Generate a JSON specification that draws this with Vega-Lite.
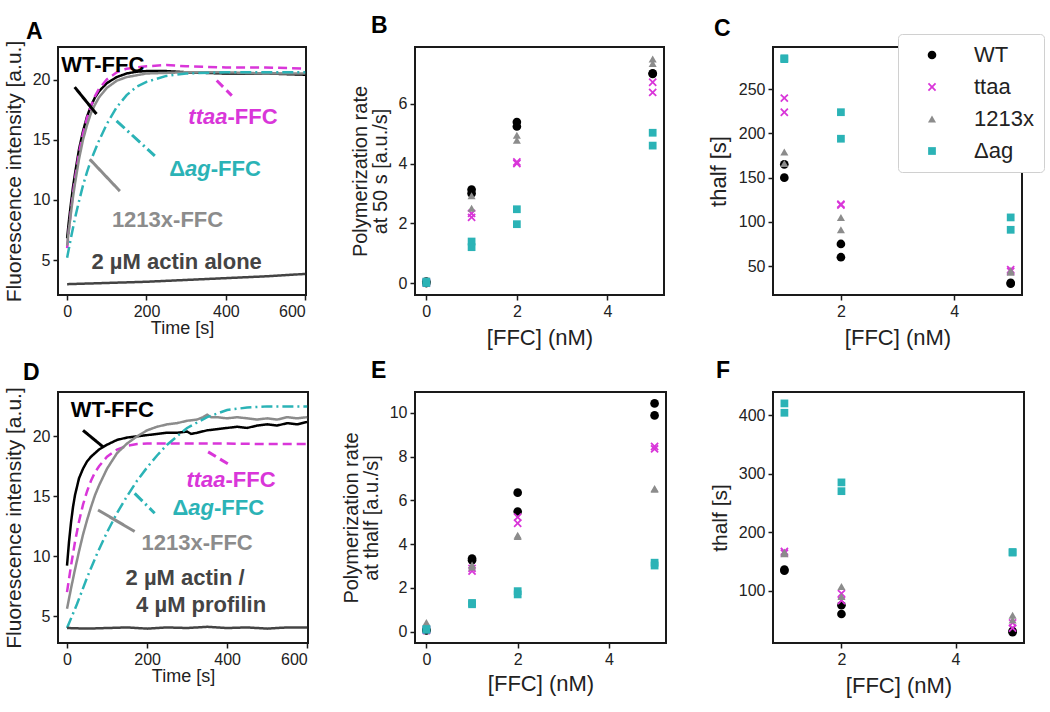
{
  "$schema": "https://vega.github.io/schema/vega-lite/v6.json",
  "background": "white",
  "padding": {"left": 2, "top": 14, "right": 4, "bottom": 4},
  "config": {
    "font": "Liberation Sans",
    "view": {"stroke": "#1a1a1a", "strokeWidth": 2},
    "axis": {"domain": false, "grid": false, "tickColor": "#1a1a1a", "tickSize": 5, "tickWidth": 1.5, "labelFontSize": 16, "labelColor": "#222", "titleFontSize": 20, "titleFontWeight": "normal", "titleColor": "#222", "labelPadding": 3, "labelFont": "Liberation Sans", "titleFont": "Liberation Sans"},
    "axisX": {"titleFontSize": 22, "titlePadding": 8},
    "axisY": {"titlePadding": 8, "titleLineHeight": 20},
    "title": {"anchor": "start", "frame": "group", "fontSize": 23, "fontWeight": "bold", "font": "Liberation Sans", "color": "#000", "baseline": "alphabetic", "offset": 9},
    "text": {"font": "Liberation Sans", "fontWeight": "bold", "fontSize": 22, "baseline": "middle"},
    "legend": {"labelFont": "Liberation Sans"}
  },
  "datasets": {
    "tsA": [
      {"series": "WT", "t": 0, "y": 6.8}, {"series": "WT", "t": 5, "y": 8.4}, {"series": "WT", "t": 10, "y": 9.8}, {"series": "WT", "t": 15, "y": 11.1}, {"series": "WT", "t": 20, "y": 12.2}, {"series": "WT", "t": 30, "y": 14.2}, {"series": "WT", "t": 40, "y": 15.7}, {"series": "WT", "t": 50, "y": 16.9}, {"series": "WT", "t": 60, "y": 17.8}, {"series": "WT", "t": 70, "y": 18.5}, {"series": "WT", "t": 80, "y": 19.0}, {"series": "WT", "t": 100, "y": 19.7}, {"series": "WT", "t": 125, "y": 20.2}, {"series": "WT", "t": 150, "y": 20.5}, {"series": "WT", "t": 175, "y": 20.65}, {"series": "WT", "t": 200, "y": 20.7}, {"series": "WT", "t": 250, "y": 20.7}, {"series": "WT", "t": 300, "y": 20.6}, {"series": "WT", "t": 400, "y": 20.5}, {"series": "WT", "t": 500, "y": 20.5}, {"series": "WT", "t": 600, "y": 20.4},
      {"series": "ttaa", "t": 0, "y": 6.0}, {"series": "ttaa", "t": 5, "y": 7.7}, {"series": "ttaa", "t": 10, "y": 9.2}, {"series": "ttaa", "t": 15, "y": 10.6}, {"series": "ttaa", "t": 20, "y": 11.8}, {"series": "ttaa", "t": 30, "y": 13.9}, {"series": "ttaa", "t": 40, "y": 15.5}, {"series": "ttaa", "t": 50, "y": 16.8}, {"series": "ttaa", "t": 60, "y": 17.8}, {"series": "ttaa", "t": 70, "y": 18.6}, {"series": "ttaa", "t": 80, "y": 19.2}, {"series": "ttaa", "t": 100, "y": 20.0}, {"series": "ttaa", "t": 125, "y": 20.6}, {"series": "ttaa", "t": 150, "y": 20.9}, {"series": "ttaa", "t": 200, "y": 21.1}, {"series": "ttaa", "t": 250, "y": 21.2}, {"series": "ttaa", "t": 300, "y": 21.1}, {"series": "ttaa", "t": 400, "y": 21.0}, {"series": "ttaa", "t": 500, "y": 21.0}, {"series": "ttaa", "t": 600, "y": 20.9},
      {"series": "1213x", "t": 0, "y": 6.2}, {"series": "1213x", "t": 5, "y": 7.7}, {"series": "1213x", "t": 10, "y": 9.0}, {"series": "1213x", "t": 15, "y": 10.3}, {"series": "1213x", "t": 20, "y": 11.4}, {"series": "1213x", "t": 30, "y": 13.4}, {"series": "1213x", "t": 40, "y": 15.0}, {"series": "1213x", "t": 50, "y": 16.2}, {"series": "1213x", "t": 60, "y": 17.2}, {"series": "1213x", "t": 70, "y": 17.9}, {"series": "1213x", "t": 80, "y": 18.5}, {"series": "1213x", "t": 100, "y": 19.3}, {"series": "1213x", "t": 125, "y": 19.9}, {"series": "1213x", "t": 150, "y": 20.2}, {"series": "1213x", "t": 200, "y": 20.5}, {"series": "1213x", "t": 300, "y": 20.6}, {"series": "1213x", "t": 400, "y": 20.6}, {"series": "1213x", "t": 500, "y": 20.5}, {"series": "1213x", "t": 600, "y": 20.5},
      {"series": "Δag", "t": 0, "y": 5.2}, {"series": "Δag", "t": 10, "y": 6.9}, {"series": "Δag", "t": 20, "y": 8.5}, {"series": "Δag", "t": 30, "y": 9.9}, {"series": "Δag", "t": 40, "y": 11.2}, {"series": "Δag", "t": 50, "y": 12.3}, {"series": "Δag", "t": 60, "y": 13.3}, {"series": "Δag", "t": 80, "y": 14.9}, {"series": "Δag", "t": 100, "y": 16.3}, {"series": "Δag", "t": 125, "y": 17.7}, {"series": "Δag", "t": 150, "y": 18.7}, {"series": "Δag", "t": 175, "y": 19.4}, {"series": "Δag", "t": 200, "y": 19.8}, {"series": "Δag", "t": 250, "y": 20.3}, {"series": "Δag", "t": 300, "y": 20.5}, {"series": "Δag", "t": 400, "y": 20.6}, {"series": "Δag", "t": 500, "y": 20.6}, {"series": "Δag", "t": 600, "y": 20.6},
      {"series": "actin", "t": 0, "y": 3.0}, {"series": "actin", "t": 100, "y": 3.1}, {"series": "actin", "t": 200, "y": 3.2}, {"series": "actin", "t": 300, "y": 3.35}, {"series": "actin", "t": 400, "y": 3.5}, {"series": "actin", "t": 500, "y": 3.65}, {"series": "actin", "t": 600, "y": 3.85}
    ],
    "tsD": [
      {"series": "WT", "t": 0, "y": 9.2}, {"series": "WT", "t": 5, "y": 11.2}, {"series": "WT", "t": 10, "y": 12.8}, {"series": "WT", "t": 15, "y": 14.1}, {"series": "WT", "t": 20, "y": 15.1}, {"series": "WT", "t": 30, "y": 16.5}, {"series": "WT", "t": 40, "y": 17.3}, {"series": "WT", "t": 50, "y": 17.9}, {"series": "WT", "t": 60, "y": 18.3}, {"series": "WT", "t": 70, "y": 18.6}, {"series": "WT", "t": 80, "y": 18.9}, {"series": "WT", "t": 100, "y": 19.3}, {"series": "WT", "t": 125, "y": 19.7}, {"series": "WT", "t": 150, "y": 19.9}, {"series": "WT", "t": 175, "y": 20.0}, {"series": "WT", "t": 200, "y": 20.1}, {"series": "WT", "t": 225, "y": 20.2}, {"series": "WT", "t": 250, "y": 20.3}, {"series": "WT", "t": 275, "y": 20.3}, {"series": "WT", "t": 300, "y": 20.4}, {"series": "WT", "t": 310, "y": 20.2}, {"series": "WT", "t": 325, "y": 20.3}, {"series": "WT", "t": 350, "y": 20.5}, {"series": "WT", "t": 375, "y": 20.6}, {"series": "WT", "t": 400, "y": 20.7}, {"series": "WT", "t": 425, "y": 20.8}, {"series": "WT", "t": 450, "y": 20.7}, {"series": "WT", "t": 475, "y": 20.9}, {"series": "WT", "t": 500, "y": 21.0}, {"series": "WT", "t": 525, "y": 20.9}, {"series": "WT", "t": 550, "y": 21.1}, {"series": "WT", "t": 575, "y": 21.0}, {"series": "WT", "t": 600, "y": 21.2},
      {"series": "ttaa", "t": 0, "y": 7.0}, {"series": "ttaa", "t": 10, "y": 9.2}, {"series": "ttaa", "t": 20, "y": 11.2}, {"series": "ttaa", "t": 30, "y": 12.9}, {"series": "ttaa", "t": 40, "y": 14.3}, {"series": "ttaa", "t": 50, "y": 15.4}, {"series": "ttaa", "t": 60, "y": 16.3}, {"series": "ttaa", "t": 70, "y": 17.0}, {"series": "ttaa", "t": 80, "y": 17.5}, {"series": "ttaa", "t": 100, "y": 18.3}, {"series": "ttaa", "t": 125, "y": 18.9}, {"series": "ttaa", "t": 150, "y": 19.2}, {"series": "ttaa", "t": 175, "y": 19.35}, {"series": "ttaa", "t": 200, "y": 19.4}, {"series": "ttaa", "t": 300, "y": 19.4}, {"series": "ttaa", "t": 400, "y": 19.4}, {"series": "ttaa", "t": 500, "y": 19.35}, {"series": "ttaa", "t": 600, "y": 19.35},
      {"series": "1213x", "t": 0, "y": 5.6}, {"series": "1213x", "t": 10, "y": 7.3}, {"series": "1213x", "t": 20, "y": 8.9}, {"series": "1213x", "t": 30, "y": 10.4}, {"series": "1213x", "t": 40, "y": 11.8}, {"series": "1213x", "t": 50, "y": 13.0}, {"series": "1213x", "t": 60, "y": 14.1}, {"series": "1213x", "t": 70, "y": 15.1}, {"series": "1213x", "t": 80, "y": 15.9}, {"series": "1213x", "t": 100, "y": 17.3}, {"series": "1213x", "t": 125, "y": 18.6}, {"series": "1213x", "t": 150, "y": 19.4}, {"series": "1213x", "t": 175, "y": 20.0}, {"series": "1213x", "t": 200, "y": 20.5}, {"series": "1213x", "t": 225, "y": 20.8}, {"series": "1213x", "t": 250, "y": 21.0}, {"series": "1213x", "t": 275, "y": 21.1}, {"series": "1213x", "t": 300, "y": 21.3}, {"series": "1213x", "t": 325, "y": 21.4}, {"series": "1213x", "t": 340, "y": 21.6}, {"series": "1213x", "t": 350, "y": 21.8}, {"series": "1213x", "t": 360, "y": 21.6}, {"series": "1213x", "t": 375, "y": 21.6}, {"series": "1213x", "t": 400, "y": 21.5}, {"series": "1213x", "t": 425, "y": 21.6}, {"series": "1213x", "t": 450, "y": 21.5}, {"series": "1213x", "t": 475, "y": 21.4}, {"series": "1213x", "t": 500, "y": 21.5}, {"series": "1213x", "t": 525, "y": 21.4}, {"series": "1213x", "t": 550, "y": 21.6}, {"series": "1213x", "t": 575, "y": 21.5}, {"series": "1213x", "t": 600, "y": 21.6},
      {"series": "Δag", "t": 0, "y": 4.0}, {"series": "Δag", "t": 25, "y": 6.0}, {"series": "Δag", "t": 50, "y": 8.2}, {"series": "Δag", "t": 75, "y": 10.2}, {"series": "Δag", "t": 100, "y": 12.0}, {"series": "Δag", "t": 125, "y": 13.6}, {"series": "Δag", "t": 150, "y": 15.0}, {"series": "Δag", "t": 175, "y": 16.3}, {"series": "Δag", "t": 200, "y": 17.4}, {"series": "Δag", "t": 225, "y": 18.4}, {"series": "Δag", "t": 250, "y": 19.3}, {"series": "Δag", "t": 275, "y": 20.0}, {"series": "Δag", "t": 300, "y": 20.7}, {"series": "Δag", "t": 350, "y": 21.6}, {"series": "Δag", "t": 400, "y": 22.2}, {"series": "Δag", "t": 450, "y": 22.4}, {"series": "Δag", "t": 500, "y": 22.5}, {"series": "Δag", "t": 600, "y": 22.5},
      {"series": "actin", "t": 0, "y": 4.0}, {"series": "actin", "t": 50, "y": 3.95}, {"series": "actin", "t": 100, "y": 4.0}, {"series": "actin", "t": 150, "y": 4.05}, {"series": "actin", "t": 200, "y": 3.95}, {"series": "actin", "t": 250, "y": 4.05}, {"series": "actin", "t": 300, "y": 4.0}, {"series": "actin", "t": 350, "y": 4.1}, {"series": "actin", "t": 400, "y": 4.0}, {"series": "actin", "t": 450, "y": 4.05}, {"series": "actin", "t": 500, "y": 3.95}, {"series": "actin", "t": 550, "y": 4.05}, {"series": "actin", "t": 600, "y": 4.05}
    ],
    "leadA": [
      {"series": "WT", "t": 19, "y": 19.37, "t2": 74, "y2": 17.13},
      {"series": "ttaa", "t": 377, "y": 19.92, "t2": 415, "y2": 18.66},
      {"series": "Δag", "t": 124.5, "y": 16.57, "t2": 221, "y2": 13.65},
      {"series": "1213x", "t": 57, "y": 13.38, "t2": 133, "y2": 10.73}
    ],
    "leadD": [
      {"series": "WT", "t": 40, "y": 20.5, "t2": 90, "y2": 19.12},
      {"series": "ttaa", "t": 352.5, "y": 18.7, "t2": 407, "y2": 17.6},
      {"series": "Δag", "t": 169, "y": 15.24, "t2": 219, "y2": 13.58},
      {"series": "1213x", "t": 77.5, "y": 13.85, "t2": 169, "y2": 12.06}
    ],
    "annA": [
      {"label": "WT-FFC", "series": "WT", "t": 90, "y": 21.2},
      {"label": "ttaa", "series": "ttaa", "t": 404, "y": 16.86},
      {"label": "-FFC", "series": "ttaa", "t": 404, "y": 16.86},
      {"label": "Δ", "series": "Δag", "t": 297, "y": 12.54},
      {"label": "ag", "series": "Δag", "t": 297, "y": 12.54},
      {"label": "-FFC", "series": "Δag", "t": 362, "y": 12.54},
      {"label": "1213x-FFC", "series": "1213x", "t": 253, "y": 8.36},
      {"label": "2 µM actin alone", "series": "actin", "t": 276, "y": 4.88}
    ],
    "annD": [
      {"label": "WT-FFC", "series": "WT", "t": 113, "y": 22.2},
      {"label": "ttaa", "series": "ttaa", "t": 396, "y": 16.35},
      {"label": "-FFC", "series": "ttaa", "t": 396, "y": 16.35},
      {"label": "Δ", "series": "Δag", "t": 303, "y": 14.0},
      {"label": "ag", "series": "Δag", "t": 303, "y": 14.0},
      {"label": "-FFC", "series": "Δag", "t": 367, "y": 14.0},
      {"label": "1213x-FFC", "series": "1213x", "t": 325, "y": 11.09},
      {"label": "2 µM actin /", "series": "actin", "t": 295, "y": 8.18},
      {"label": "4 µM profilin", "series": "actin", "t": 335, "y": 5.96}
    ],
    "scB": [
      {"series": "WT", "conc": 0, "v": 0.0}, {"series": "WT", "conc": 0, "v": 0.05}, {"series": "ttaa", "conc": 0, "v": 0.0}, {"series": "ttaa", "conc": 0, "v": 0.04}, {"series": "1213x", "conc": 0, "v": 0.03}, {"series": "1213x", "conc": 0, "v": 0.06}, {"series": "Δag", "conc": 0, "v": 0.0}, {"series": "Δag", "conc": 0, "v": 0.05},
      {"series": "WT", "conc": 1, "v": 3.13}, {"series": "WT", "conc": 1, "v": 3.0}, {"series": "ttaa", "conc": 1, "v": 2.33}, {"series": "ttaa", "conc": 1, "v": 2.2}, {"series": "1213x", "conc": 1, "v": 2.92}, {"series": "1213x", "conc": 1, "v": 2.5}, {"series": "Δag", "conc": 1, "v": 1.39}, {"series": "Δag", "conc": 1, "v": 1.2},
      {"series": "WT", "conc": 2, "v": 5.39}, {"series": "WT", "conc": 2, "v": 5.24}, {"series": "ttaa", "conc": 2, "v": 4.05}, {"series": "ttaa", "conc": 2, "v": 4.0}, {"series": "1213x", "conc": 2, "v": 4.95}, {"series": "1213x", "conc": 2, "v": 4.78}, {"series": "Δag", "conc": 2, "v": 2.47}, {"series": "Δag", "conc": 2, "v": 1.97},
      {"series": "WT", "conc": 5, "v": 7.02}, {"series": "WT", "conc": 5, "v": 7.0}, {"series": "ttaa", "conc": 5, "v": 6.72}, {"series": "ttaa", "conc": 5, "v": 6.38}, {"series": "1213x", "conc": 5, "v": 7.5}, {"series": "1213x", "conc": 5, "v": 7.35}, {"series": "Δag", "conc": 5, "v": 5.03}, {"series": "Δag", "conc": 5, "v": 4.6}
    ],
    "scC": [
      {"series": "WT", "conc": 1, "v": 165}, {"series": "WT", "conc": 1, "v": 150}, {"series": "ttaa", "conc": 1, "v": 240}, {"series": "ttaa", "conc": 1, "v": 224}, {"series": "1213x", "conc": 1, "v": 179}, {"series": "1213x", "conc": 1, "v": 166}, {"series": "Δag", "conc": 1, "v": 285}, {"series": "Δag", "conc": 1, "v": 284},
      {"series": "WT", "conc": 2, "v": 75}, {"series": "WT", "conc": 2, "v": 60}, {"series": "ttaa", "conc": 2, "v": 120}, {"series": "ttaa", "conc": 2, "v": 119}, {"series": "1213x", "conc": 2, "v": 105}, {"series": "1213x", "conc": 2, "v": 91}, {"series": "Δag", "conc": 2, "v": 224}, {"series": "Δag", "conc": 2, "v": 194},
      {"series": "WT", "conc": 5, "v": 31}, {"series": "WT", "conc": 5, "v": 30}, {"series": "ttaa", "conc": 5, "v": 46}, {"series": "ttaa", "conc": 5, "v": 44}, {"series": "1213x", "conc": 5, "v": 45}, {"series": "1213x", "conc": 5, "v": 43}, {"series": "Δag", "conc": 5, "v": 105}, {"series": "Δag", "conc": 5, "v": 91}
    ],
    "scE": [
      {"series": "WT", "conc": 0, "v": 0.05}, {"series": "WT", "conc": 0, "v": 0.08}, {"series": "ttaa", "conc": 0, "v": 0.05}, {"series": "ttaa", "conc": 0, "v": 0.1}, {"series": "1213x", "conc": 0, "v": 0.42}, {"series": "1213x", "conc": 0, "v": 0.1}, {"series": "Δag", "conc": 0, "v": 0.08}, {"series": "Δag", "conc": 0, "v": 0.12},
      {"series": "WT", "conc": 1, "v": 3.34}, {"series": "WT", "conc": 1, "v": 3.26}, {"series": "ttaa", "conc": 1, "v": 2.89}, {"series": "ttaa", "conc": 1, "v": 2.77}, {"series": "1213x", "conc": 1, "v": 3.05}, {"series": "1213x", "conc": 1, "v": 2.95}, {"series": "Δag", "conc": 1, "v": 1.31}, {"series": "Δag", "conc": 1, "v": 1.25},
      {"series": "WT", "conc": 2, "v": 6.35}, {"series": "WT", "conc": 2, "v": 5.49}, {"series": "ttaa", "conc": 2, "v": 5.23}, {"series": "ttaa", "conc": 2, "v": 4.95}, {"series": "1213x", "conc": 2, "v": 4.4}, {"series": "1213x", "conc": 2, "v": 4.35}, {"series": "Δag", "conc": 2, "v": 1.85}, {"series": "Δag", "conc": 2, "v": 1.7},
      {"series": "WT", "conc": 5, "v": 10.43}, {"series": "WT", "conc": 5, "v": 9.88}, {"series": "ttaa", "conc": 5, "v": 8.46}, {"series": "ttaa", "conc": 5, "v": 8.35}, {"series": "1213x", "conc": 5, "v": 6.54}, {"series": "1213x", "conc": 5, "v": 6.5}, {"series": "Δag", "conc": 5, "v": 3.15}, {"series": "Δag", "conc": 5, "v": 3.02}
    ],
    "scF": [
      {"series": "WT", "conc": 1, "v": 136}, {"series": "WT", "conc": 1, "v": 134}, {"series": "ttaa", "conc": 1, "v": 167}, {"series": "ttaa", "conc": 1, "v": 164}, {"series": "1213x", "conc": 1, "v": 166}, {"series": "1213x", "conc": 1, "v": 163}, {"series": "Δag", "conc": 1, "v": 420}, {"series": "Δag", "conc": 1, "v": 404},
      {"series": "WT", "conc": 2, "v": 75}, {"series": "WT", "conc": 2, "v": 60}, {"series": "ttaa", "conc": 2, "v": 95}, {"series": "ttaa", "conc": 2, "v": 83}, {"series": "1213x", "conc": 2, "v": 107}, {"series": "1213x", "conc": 2, "v": 90}, {"series": "Δag", "conc": 2, "v": 285}, {"series": "Δag", "conc": 2, "v": 270},
      {"series": "WT", "conc": 5, "v": 31}, {"series": "WT", "conc": 5, "v": 29}, {"series": "ttaa", "conc": 5, "v": 45}, {"series": "ttaa", "conc": 5, "v": 36}, {"series": "1213x", "conc": 5, "v": 58}, {"series": "1213x", "conc": 5, "v": 50}, {"series": "Δag", "conc": 5, "v": 166}, {"series": "Δag", "conc": 5, "v": 165}
    ]
  },
  "columns": 3,
  "spacing": {"row": 97, "column": 107},
  "bounds": "flush",
  "resolve": {"scale": {"color": "independent", "shape": "independent", "strokeDash": "independent", "size": "independent", "x": "independent", "y": "independent"}, "legend": {"color": "independent", "shape": "independent", "size": "independent", "strokeDash": "independent"}},
  "concat": [
    {
      "width": 248, "height": 248,
      "title": {"text": "A", "dx": -32, "dy": 13},
      "encoding": {
        "x": {"field": "t", "type": "quantitative", "scale": {"domain": [-23, 602], "nice": false, "zero": false}, "axis": {"values": [0, 200, 400, 600], "title": "Time [s]", "titleFontSize": 18, "titlePadding": 0}},
        "y": {"field": "y", "type": "quantitative", "scale": {"domain": [2.1, 22.7], "nice": false, "zero": false}, "axis": {"values": [5, 10, 15, 20], "title": "Fluorescence intensity [a.u.]", "titleFontSize": 21}},
        "color": {"field": "series", "type": "nominal", "scale": {"domain": ["WT", "ttaa", "1213x", "Δag", "actin"], "range": ["#000000", "#d936d9", "#8c8c8c", "#2bb3b6", "#444444"]}, "legend": null}
      },
      "layer": [
        {"data": {"name": "tsA"}, "mark": {"type": "line", "strokeWidth": 2.5, "clip": true},
         "encoding": {"strokeDash": {"field": "series", "type": "nominal", "scale": {"domain": ["WT", "ttaa", "1213x", "Δag", "actin"], "range": [[1, 0], [9, 5], [1, 0], [11, 4, 2, 4], [1, 0]]}, "legend": null}}},
        {"data": {"name": "leadA"}, "mark": {"type": "rule", "strokeWidth": 3},
         "encoding": {"x2": {"field": "t2"}, "y2": {"field": "y2"}, "strokeDash": {"field": "series", "type": "nominal", "legend": null}}},
        {"data": {"name": "annA"}, "transform": [{"filter": "datum.label !== 'ttaa' && datum.label !== 'Δ' && datum.label !== '-FFC' && datum.label !== 'ag'"}], "mark": {"type": "text", "align": "center"}, "encoding": {"text": {"field": "label"}}},
        {"data": {"name": "annA"}, "transform": [{"filter": "datum.label === 'Δ'"}], "mark": {"type": "text", "align": "right"}, "encoding": {"text": {"field": "label"}}},
        {"data": {"name": "annA"}, "transform": [{"filter": "datum.label === 'ttaa'"}], "mark": {"type": "text", "align": "right", "fontStyle": "italic"}, "encoding": {"text": {"field": "label"}}},
        {"data": {"name": "annA"}, "transform": [{"filter": "datum.label === '-FFC'"}], "mark": {"type": "text", "align": "left"}, "encoding": {"text": {"field": "label"}}},
        {"data": {"name": "annA"}, "transform": [{"filter": "datum.label === 'ag'"}], "mark": {"type": "text", "align": "left", "fontStyle": "italic"}, "encoding": {"text": {"field": "label"}}}
      ]
    },
    {
      "width": 249, "height": 248,
      "title": {"text": "B", "dx": -44},
      "data": {"name": "scB"},
      "mark": {"type": "point", "filled": true, "opacity": 1},
      "encoding": {
        "x": {"field": "conc", "type": "quantitative", "scale": {"domain": [-0.25, 5.25], "nice": false, "zero": false}, "axis": {"values": [0, 2, 4], "title": "[FFC] (nM)"}},
        "y": {"field": "v", "type": "quantitative", "scale": {"domain": [-0.4, 7.9], "nice": false, "zero": false}, "axis": {"values": [0, 2, 4, 6], "title": ["Polymerization rate", "at 50 s [a.u./s]"]}},
        "color": {"field": "series", "type": "nominal", "scale": {"domain": ["WT", "ttaa", "1213x", "Δag"], "range": ["#000000", "#d936d9", "#8c8c8c", "#2bb3b6"]}, "legend": null},
        "shape": {"field": "series", "type": "nominal", "scale": {"domain": ["WT", "ttaa", "1213x", "Δag"], "range": ["circle", "M-1,-0.7L-0.7,-1L0,-0.3L0.7,-1L1,-0.7L0.3,0L1,0.7L0.7,1L0,0.3L-0.7,1L-1,0.7L-0.3,0Z", "triangle-up", "square"]}, "legend": null},
        "size": {"field": "series", "type": "nominal", "scale": {"domain": ["WT", "ttaa", "1213x", "Δag"], "range": [75, 60, 65, 90]}, "legend": null}
      }
    },
    {
      "width": 249, "height": 248,
      "title": {"text": "C", "dx": -59, "dy": 16},
      "data": {"name": "scC"},
      "mark": {"type": "point", "filled": true, "opacity": 1},
      "encoding": {
        "x": {"field": "conc", "type": "quantitative", "scale": {"domain": [0.8, 5.2], "nice": false, "zero": false}, "axis": {"values": [2, 4], "title": "[FFC] (nM)"}},
        "y": {"field": "v", "type": "quantitative", "scale": {"domain": [17.25, 297.75], "nice": false, "zero": false}, "axis": {"values": [50, 100, 150, 200, 250], "title": "thalf [s]", "titleFontSize": 22}},
        "color": {"field": "series", "type": "nominal", "scale": {"domain": ["WT", "ttaa", "1213x", "Δag"], "range": ["#000000", "#d936d9", "#8c8c8c", "#2bb3b6"]},
          "legend": {"title": null, "orient": "none", "legendX": 125, "legendY": -13, "fillColor": "white", "strokeColor": "#d0d0d0", "cornerRadius": 4, "padding": 10, "symbolSize": 190, "symbolOffset": 13, "labelOffset": 31, "labelFontSize": 22, "labelColor": "#222", "rowPadding": 10, "symbolStrokeWidth": 0, "zindex": 1, "encode": {"symbols": {"update": {"size": {"value": 190}}}}}},
        "shape": {"field": "series", "type": "nominal", "scale": {"domain": ["WT", "ttaa", "1213x", "Δag"], "range": ["circle", "M-1,-0.7L-0.7,-1L0,-0.3L0.7,-1L1,-0.7L0.3,0L1,0.7L0.7,1L0,0.3L-0.7,1L-1,0.7L-0.3,0Z", "triangle-up", "square"]},
          "legend": {"title": null, "orient": "none", "legendX": 125, "legendY": -13, "fillColor": "white", "strokeColor": "#d0d0d0", "cornerRadius": 4, "padding": 10, "symbolSize": 190, "symbolOffset": 13, "labelOffset": 31, "labelFontSize": 22, "labelColor": "#222", "rowPadding": 10, "symbolStrokeWidth": 0, "zindex": 1, "encode": {"symbols": {"update": {"size": {"value": 190}}}}}},
        "size": {"field": "series", "type": "nominal", "scale": {"domain": ["WT", "ttaa", "1213x", "Δag"], "range": [75, 60, 65, 90]}, "legend": null}
      }
    },
    {
      "width": 250, "height": 251,
      "title": {"text": "D", "dx": -35, "dy": 7},
      "encoding": {
        "x": {"field": "t", "type": "quantitative", "scale": {"domain": [-22.5, 602], "nice": false, "zero": false}, "axis": {"values": [0, 200, 400, 600], "title": "Time [s]", "titleFontSize": 18, "titlePadding": 0}},
        "y": {"field": "y", "type": "quantitative", "scale": {"domain": [2.75, 23.7], "nice": false, "zero": false}, "axis": {"values": [5, 10, 15, 20], "title": "Fluorescence intensity [a.u.]", "titleFontSize": 21}},
        "color": {"field": "series", "type": "nominal", "scale": {"domain": ["WT", "ttaa", "1213x", "Δag", "actin"], "range": ["#000000", "#d936d9", "#8c8c8c", "#2bb3b6", "#444444"]}, "legend": null}
      },
      "layer": [
        {"data": {"name": "tsD"}, "mark": {"type": "line", "strokeWidth": 2.5, "clip": true},
         "encoding": {"strokeDash": {"field": "series", "type": "nominal", "scale": {"domain": ["WT", "ttaa", "1213x", "Δag", "actin"], "range": [[1, 0], [9, 5], [1, 0], [11, 4, 2, 4], [1, 0]]}, "legend": null}}},
        {"data": {"name": "leadD"}, "mark": {"type": "rule", "strokeWidth": 3},
         "encoding": {"x2": {"field": "t2"}, "y2": {"field": "y2"}, "strokeDash": {"field": "series", "type": "nominal", "legend": null}}},
        {"data": {"name": "annD"}, "transform": [{"filter": "datum.label !== 'ttaa' && datum.label !== 'Δ' && datum.label !== '-FFC' && datum.label !== 'ag'"}], "mark": {"type": "text", "align": "center"}, "encoding": {"text": {"field": "label"}}},
        {"data": {"name": "annD"}, "transform": [{"filter": "datum.label === 'Δ'"}], "mark": {"type": "text", "align": "right"}, "encoding": {"text": {"field": "label"}}},
        {"data": {"name": "annD"}, "transform": [{"filter": "datum.label === 'ttaa'"}], "mark": {"type": "text", "align": "right", "fontStyle": "italic"}, "encoding": {"text": {"field": "label"}}},
        {"data": {"name": "annD"}, "transform": [{"filter": "datum.label === '-FFC'"}], "mark": {"type": "text", "align": "left"}, "encoding": {"text": {"field": "label"}}},
        {"data": {"name": "annD"}, "transform": [{"filter": "datum.label === 'ag'"}], "mark": {"type": "text", "align": "left", "fontStyle": "italic"}, "encoding": {"text": {"field": "label"}}}
      ]
    },
    {
      "width": 251, "height": 251,
      "title": {"text": "E", "dx": -44},
      "data": {"name": "scE"},
      "mark": {"type": "point", "filled": true, "opacity": 1},
      "encoding": {
        "x": {"field": "conc", "type": "quantitative", "scale": {"domain": [-0.25, 5.25], "nice": false, "zero": false}, "axis": {"values": [0, 2, 4], "title": "[FFC] (nM)", "titlePadding": 6}},
        "y": {"field": "v", "type": "quantitative", "scale": {"domain": [-0.52, 10.95], "nice": false, "zero": false}, "axis": {"values": [0, 2, 4, 6, 8, 10], "title": ["Polymerization rate", "at thalf [a.u./s]"]}},
        "color": {"field": "series", "type": "nominal", "scale": {"domain": ["WT", "ttaa", "1213x", "Δag"], "range": ["#000000", "#d936d9", "#8c8c8c", "#2bb3b6"]}, "legend": null},
        "shape": {"field": "series", "type": "nominal", "scale": {"domain": ["WT", "ttaa", "1213x", "Δag"], "range": ["circle", "M-1,-0.7L-0.7,-1L0,-0.3L0.7,-1L1,-0.7L0.3,0L1,0.7L0.7,1L0,0.3L-0.7,1L-1,0.7L-0.3,0Z", "triangle-up", "square"]}, "legend": null},
        "size": {"field": "series", "type": "nominal", "scale": {"domain": ["WT", "ttaa", "1213x", "Δag"], "range": [75, 60, 65, 90]}, "legend": null}
      }
    },
    {
      "width": 251, "height": 251,
      "title": {"text": "F", "dx": -57},
      "data": {"name": "scF"},
      "mark": {"type": "point", "filled": true, "opacity": 1},
      "encoding": {
        "x": {"field": "conc", "type": "quantitative", "scale": {"domain": [0.8, 5.2], "nice": false, "zero": false}, "axis": {"values": [2, 4], "title": "[FFC] (nM)"}},
        "y": {"field": "v", "type": "quantitative", "scale": {"domain": [10.5, 439.5], "nice": false, "zero": false}, "axis": {"values": [100, 200, 300, 400], "title": "thalf [s]", "titleFontSize": 21}},
        "color": {"field": "series", "type": "nominal", "scale": {"domain": ["WT", "ttaa", "1213x", "Δag"], "range": ["#000000", "#d936d9", "#8c8c8c", "#2bb3b6"]}, "legend": null},
        "shape": {"field": "series", "type": "nominal", "scale": {"domain": ["WT", "ttaa", "1213x", "Δag"], "range": ["circle", "M-1,-0.7L-0.7,-1L0,-0.3L0.7,-1L1,-0.7L0.3,0L1,0.7L0.7,1L0,0.3L-0.7,1L-1,0.7L-0.3,0Z", "triangle-up", "square"]}, "legend": null},
        "size": {"field": "series", "type": "nominal", "scale": {"domain": ["WT", "ttaa", "1213x", "Δag"], "range": [75, 60, 65, 90]}, "legend": null}
      }
    }
  ]
}
